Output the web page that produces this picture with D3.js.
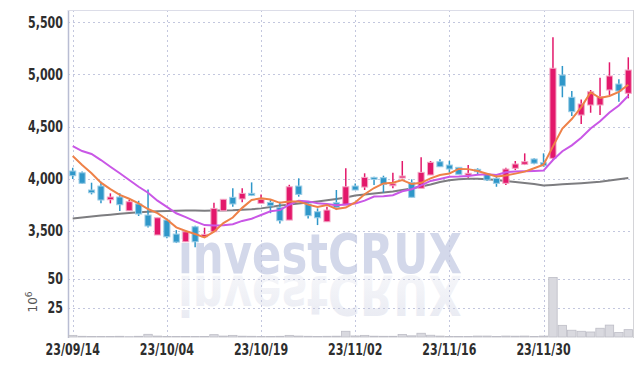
<!DOCTYPE html>
<html>
<head>
<meta charset="utf-8">
<script src="https://cdn.jsdelivr.net/npm/d3@7"></script>
<style>
  body { margin: 0; background: #fff; }
  svg text { font-family: "DejaVu Sans Condensed", "DejaVu Sans", sans-serif; }
</style>
</head>
<body>
<svg id="chart"></svg>
<script>
const width = 642, height = 366

// trading days (yy/mm/dd)
const dates = [
  "23/09/14","23/09/15","23/09/18","23/09/19","23/09/20","23/09/21","23/09/22","23/09/25","23/09/26","23/09/27",
  "23/10/04","23/10/05","23/10/06","23/10/10","23/10/11","23/10/12","23/10/13","23/10/16","23/10/17","23/10/18",
  "23/10/19","23/10/20","23/10/23","23/10/24","23/10/25","23/10/26","23/10/27","23/10/30","23/10/31","23/11/01",
  "23/11/02","23/11/03","23/11/06","23/11/07","23/11/08","23/11/09","23/11/10","23/11/13","23/11/14","23/11/15",
  "23/11/16","23/11/17","23/11/20","23/11/21","23/11/22","23/11/23","23/11/24","23/11/27","23/11/28","23/11/29",
  "23/11/30","23/12/01","23/12/04","23/12/05","23/12/06","23/12/07","23/12/08","23/12/11","23/12/12","23/12/13"
]
const open = [
  4074,4057,3892,3930,3799,3825,3693,3758,3652,3461,
  3604,3470,3396,3540,3444,3492,3693,3822,3806,3860,
  3764,3773,3726,3604,3930,3758,3684,3588,3770,3748,
  3930,3920,4013,4010,3943,4010,3962,3908,4036,4163,
  4131,4109,4042,4090,4042,4004,3956,4100,4138,4189,
  4153,4195,4993,4780,4610,4706,4706,4850,4907,4818
]
const high = [
  4105,4070,3962,3971,3860,3860,3796,3789,3898,3626,
  3620,3508,3508,3550,3531,3770,3803,3908,3908,3965,
  3850,3796,3780,3942,4004,3780,3716,3732,3892,4100,
  3955,4052,4020,4029,4058,4170,3994,4205,4170,4186,
  4172,4109,4131,4100,4052,4020,4105,4170,4243,4195,
  4243,5354,5080,4840,4760,4850,4968,5115,4952,5163
]
const low = [
  3997,3950,3850,3764,3764,3691,3693,3643,3534,3461,
  3430,3384,3396,3343,3444,3492,3693,3732,3774,3834,
  3764,3670,3572,3604,3828,3620,3556,3588,3700,3748,
  3892,3892,3940,3866,3908,4004,3822,3908,4036,4115,
  4058,4042,4010,4035,3978,3923,3940,4083,4131,4138,
  4115,4180,4780,4600,4524,4632,4610,4802,4738,4770
]
const close = [
  4029,3956,3866,3796,3825,3751,3780,3662,3547,3626,
  3444,3393,3492,3396,3467,3716,3803,3758,3860,3844,
  3803,3741,3598,3923,3850,3646,3626,3700,3726,3923,
  3892,4013,4000,3946,3952,4026,3822,4061,4157,4115,
  4093,4042,4052,4067,3988,3956,4093,4141,4163,4148,
  4125,5058,4888,4642,4716,4833,4786,4984,4840,5041
]
const ma5 = [
  4217,4131,4052,3962,3900,3845,3808,3763,3710,3670,
  3610,3534,3500,3470,3438,3493,3575,3628,3721,3796,
  3814,3801,3769,3782,3783,3752,3729,3749,3710,3724,
  3773,3851,3911,3955,3961,3987,3949,3961,4004,4036,
  4050,4094,4092,4074,4048,4021,4031,4049,4068,4100,
  4134,4310,4480,4572,4686,4827,4773,4792,4832,4900
]
const ma10 = [
  4313,4265,4237,4179,4115,4052,3988,3923,3866,3790,
  3730,3669,3632,3592,3556,3552,3555,3564,3596,3617,
  3653,3688,3699,3751,3790,3783,3765,3759,3746,3754,
  3763,3790,3830,3832,3842,3880,3900,3936,3979,3998,
  4019,4021,4027,4039,4042,4035,4062,4070,4071,4074,
  4078,4179,4263,4320,4393,4481,4550,4634,4702,4795
]
const ma60 = [
  3619,3628,3638,3647,3655,3664,3671,3678,3684,3689,
  3692,3694,3695,3695,3694,3695,3696,3698,3702,3707,
  3716,3729,3743,3752,3762,3772,3782,3793,3806,3820,
  3839,3849,3858,3868,3877,3892,3906,3925,3944,3968,
  3985,3995,4000,3999,3994,3988,3978,3968,3959,3949,
  3935,3940,3946,3952,3957,3964,3971,3983,3995,4007
]
// volume, millions of shares
const volume = [
  1.4,0.6,0.5,0.5,0.5,0.6,0.3,0.6,2.3,0.8,
  0.5,0.5,0.4,0.5,0.5,2.0,0.8,1.4,0.7,0.6,
  0.5,0.5,0.6,1.4,0.8,0.6,0.5,0.6,0.7,4.9,
  0.9,1.4,0.7,0.6,0.6,2.2,1.0,3.2,1.5,0.8,
  0.5,0.4,0.5,0.8,0.8,0.4,0.8,0.7,0.8,0.5,
  0.8,51,10,5.8,4.9,4.3,7.5,10.2,3.8,6.3
]
const priceTicks = [3500, 4000, 4500, 5000, 5500]
const volTicks = [25, 50]

const UP = "#e3186b", DOWN = "#2f97c9"
const left = 68, right = 633

const svg = d3.select("#chart")
    .attr("width", width)
    .attr("height", height)

const idx = d3.range(dates.length)
const x = d3.scaleBand()
    .domain(idx)
    .range([left, right])
    .paddingInner(0.35)
    .paddingOuter(0.175)
const cx = i => x(i) + x.bandwidth() / 2

const y = d3.scaleLinear().domain([3145, 5616]).range([268, 10])
const yv = d3.scaleLinear().domain([0, 55.7]).range([337, 272])

// watermark + reflection
const defs = svg.append("defs")
const grad = defs.append("linearGradient")
    .attr("id", "fade").attr("x1", 0).attr("y1", 0).attr("x2", 0).attr("y2", 1)
grad.append("stop").attr("offset", "0%").attr("stop-color", "#e6e8f1").attr("stop-opacity", 1)
grad.append("stop").attr("offset", "100%").attr("stop-color", "#f0f1f6").attr("stop-opacity", 0.5)

const wm = svg.append("g")
wm.append("text")
    .attr("x", 178).attr("y", 273)
    .attr("textLength", 284).attr("lengthAdjust", "spacingAndGlyphs")
    .style("font-family", "'DejaVu Sans', sans-serif")
    .style("font-weight", "bold").style("font-size", "56px")
    .attr("fill", "#d3d8ea")
    .text("investCRUX")
wm.append("text")
    .attr("x", 178).attr("y", -276)
    .attr("transform", "scale(1,-1)")
    .attr("textLength", 284).attr("lengthAdjust", "spacingAndGlyphs")
    .style("font-family", "'DejaVu Sans', sans-serif")
    .style("font-weight", "bold").style("font-size", "56px")
    .attr("fill", "url(#fade)")
    .text("investCRUX")

// grid
const grid = svg.append("g")
    .attr("stroke", "#c3c7de")
    .attr("stroke-dasharray", "2,3")
    .attr("stroke-width", 1)
grid.selectAll(".hp").data(priceTicks).enter().append("line")
    .attr("x1", left).attr("x2", right)
    .attr("y1", d => Math.round(y(d)) + 0.5).attr("y2", d => Math.round(y(d)) + 0.5)
grid.selectAll(".hv").data(volTicks).enter().append("line")
    .attr("x1", left).attr("x2", right)
    .attr("y1", d => Math.round(yv(d)) + 0.5).attr("y2", d => Math.round(yv(d)) + 0.5)
const tickIdx = idx.filter(i => i % 10 == 0)
grid.selectAll(".vv").data(tickIdx).enter().append("line")
    .attr("x1", d => Math.round(cx(d)) + 0.5).attr("x2", d => Math.round(cx(d)) + 0.5)
    .attr("y1", 10).attr("y2", 337)

// frame
svg.append("line").attr("x1", left + 0.5).attr("x2", left + 0.5).attr("y1", 10).attr("y2", 338)
    .attr("stroke", "#b9bdd3").attr("stroke-width", 1.5)
svg.append("line").attr("x1", right + 0.5).attr("x2", right + 0.5).attr("y1", 10).attr("y2", 338)
    .attr("stroke", "#d4d4d8")
svg.append("line").attr("x1", left).attr("x2", right).attr("y1", 10.5).attr("y2", 10.5)
    .attr("stroke", "#dcdde8")

// volume bars
svg.append("g").selectAll("rect").data(idx).enter().append("rect")
    .attr("x", i => cx(i) - x.step() / 2 + 0.5)
    .attr("width", x.step() - 1)
    .attr("y", i => yv(volume[i]))
    .attr("height", i => yv(0) - yv(volume[i]))
    .attr("fill", "#d9d9df")
    .attr("stroke", "#bdbdc6")
    .attr("stroke-width", 0.8)

// moving averages
const lineOf = arr => d3.line().x(i => cx(i)).y(i => y(arr[i]))(idx)
svg.append("path").attr("d", lineOf(ma60)).attr("fill", "none")
    .attr("stroke", "#7d7d80").attr("stroke-width", 2)

// candles
const candle = svg.append("g").selectAll("g").data(idx).enter().append("g")
candle.append("line")
    .attr("x1", i => cx(i)).attr("x2", i => cx(i))
    .attr("y1", i => y(high[i])).attr("y2", i => y(low[i]))
    .attr("stroke", i => close[i] >= open[i] ? UP : DOWN)
    .attr("stroke-width", 1.5)
candle.append("rect")
    .attr("x", i => x(i))
    .attr("width", x.bandwidth())
    .attr("y", i => y(Math.max(open[i], close[i])))
    .attr("height", i => Math.max(2, Math.abs(y(open[i]) - y(close[i]))))
    .attr("fill", i => close[i] >= open[i] ? UP : DOWN)
    .attr("stroke", i => close[i] >= open[i] ? "#f3a9c6" : "#9ccde6")
    .attr("stroke-width", 1)

svg.append("path").attr("d", lineOf(ma10)).attr("fill", "none")
    .attr("stroke", "#c957e6").attr("stroke-width", 2)
svg.append("path").attr("d", lineOf(ma5)).attr("fill", "none")
    .attr("stroke", "#ee8148").attr("stroke-width", 2)

// axes labels (narrowed horizontally to look like a condensed face)
const sx = 0.82
const lab = svg.append("g").attr("fill", "#2e2e2e")
    .style("font-size", "15px").style("font-weight", "bold")
lab.selectAll(".py").data(priceTicks).enter().append("text")
    .attr("transform", d => `translate(63,${y(d) + 5.5}) scale(${sx},1)`)
    .attr("text-anchor", "end")
    .text(d => d3.format(",")(d))
lab.selectAll(".vy").data(volTicks).enter().append("text")
    .attr("transform", d => `translate(63,${yv(d) + 5.5}) scale(${sx},1)`)
    .attr("text-anchor", "end")
    .text(d => d)
lab.selectAll(".xl").data(tickIdx).enter().append("text")
    .attr("transform", d => `translate(${cx(d)},355) scale(${sx},1)`)
    .attr("text-anchor", "middle")
    .text(d => dates[d])

const unit = svg.append("text")
    .attr("transform", "translate(37,302) rotate(-90)")
    .attr("text-anchor", "middle")
    .attr("fill", "#555")
    .style("font-family", "'DejaVu Sans', sans-serif")
    .style("font-size", "12px")
unit.append("tspan").text("10")
unit.append("tspan").attr("dy", -5).style("font-size", "9px").text("6")
</script>
</body>
</html>
